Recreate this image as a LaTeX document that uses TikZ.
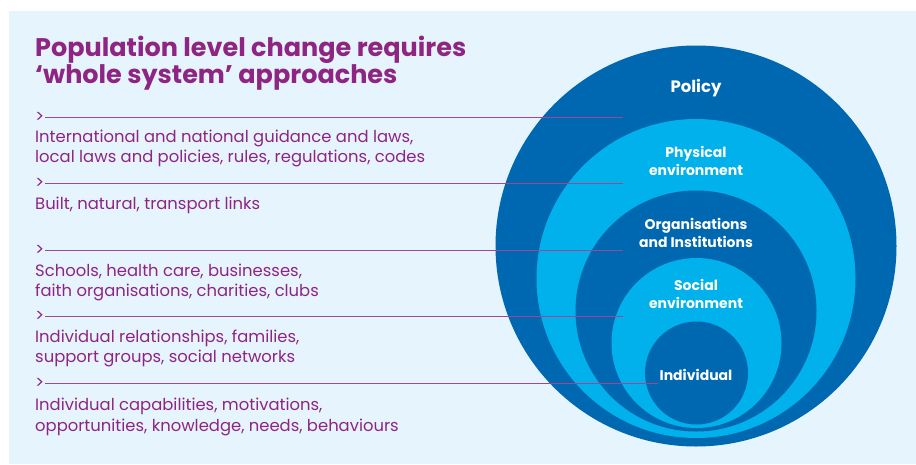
\documentclass[tikz,border=0pt]{standalone}
\usepackage{fontspec}
\setmainfont{Poppins}
\definecolor{paleblue}{HTML}{E6F4FD}
\definecolor{deepblue}{HTML}{0067B1}
\definecolor{skyblue}{HTML}{00B1EB}
\definecolor{plum}{HTML}{8E2583}
\tikzset{
  ringlabel/.style = {text = white, font = \fontsize{14}{18}\selectfont\bfseries, align = center},
  leveltext/.style = {anchor = base west, inner sep = 0pt, text = plum, align = left,
                      font = \fontsize{16.4}{20.5}\selectfont},
  marker/.style = {anchor = east, inner sep = 0.5pt, text = plum, font = \fontsize{17}{17}\selectfont},
  link/.style = {draw = plum!85, line width = 0.7pt}
}
\begin{document}
\begin{tikzpicture}[x = 1pt, y = -1pt]
  \useasboundingbox (0,0) rectangle (916,464);
  \fill[paleblue] (9,11) rectangle (916,464);

  % rings, outside in
  \fill[deepblue] (696,246) circle (200.5);
  \fill[skyblue]  (696,278.5) circle (159.5);
  \fill[deepblue] (696,311) circle (120.5);
  \fill[skyblue]  (696.5,343) circle (85);
  \fill[deepblue] (696.5,373) circle (51.5);

  \node[ringlabel, font = \fontsize{16.5}{18}\selectfont\bfseries] (policy) at (696,88) {Policy};
  \node[ringlabel] (physical) at (696,161) {Physical\\environment};
  \node[ringlabel] (organisations) at (696,232.5) {Organisations\\and Institutions};
  \node[ringlabel] (social) at (696,294) {Social\\environment};
  \node[ringlabel] (individual) at (696,375) {Individual};

  % base anchor sits on the last line
  \node[anchor = base west, inner sep = 0pt, text = plum, align = left,
        font = \fontsize{25.5}{25.5}\selectfont\bfseries] (title) at (35,83)
        {Population level change requires\\‘whole system’ approaches};

  \coordinate (e1) at (623,117);
  \coordinate (e2) at (623,183.5);
  \coordinate (e3) at (623,250);
  \coordinate (e4) at (623,316);
  \coordinate (e5) at (658,383.5);

  \node[marker] (gt1) at (45,117) {>};
  \node[marker] (gt2) at (45,183.5) {>};
  \node[marker] (gt3) at (45,250) {>};
  \node[marker] (gt4) at (45,316) {>};
  \node[marker] (gt5) at (45,383.5) {>};

  \draw[link] (gt1.east) -- (e1);
  \draw[link] (gt2.east) -- (e2);
  \draw[link] (gt3.east) -- (e3);
  \draw[link] (gt4.east) -- (e4);
  \draw[link] (gt5.east) -- (e5);

  \node[leveltext] (laws) at (35,162.5)
    {International and national guidance and laws,\\local laws and policies, rules, regulations, codes};
  \node[leveltext] (built) at (35,209) {Built, natural, transport links};
  \node[leveltext] (schools) at (35,296.5)
    {Schools, health care, businesses,\\faith organisations, charities, clubs};
  \node[leveltext] (families) at (35,362.5)
    {Individual relationships, families,\\support groups, social networks};
  \node[leveltext] (capabilities) at (35,431)
    {Individual capabilities, motivations,\\opportunities, knowledge, needs, behaviours};
\end{tikzpicture}
\end{document}
